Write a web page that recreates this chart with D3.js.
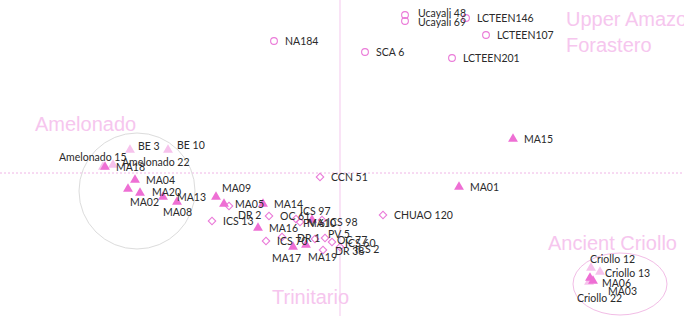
<!DOCTYPE html>
<html>
<head>
<meta charset="utf-8">
<script src="https://d3js.org/d3.v7.min.js"></script>
<style>
  body { margin: 0; background: #fff; }
  text { font-family: Lato, "Noto Sans", sans-serif; }
</style>
</head>
<body>
<div id="main"></div>
<script>
const ctx = { w: 684, h: 316 };

// PCA scores (PC1, PC2)
const forasteroNames = ["NA184", "SCA 6", "Ucayali 48", "Ucayali 69", "LCTEEN146", "LCTEEN107", "LCTEEN201"];
const forasteroPC1 = [-0.66, 0.25, 0.65, 0.65, 1.26, 1.46, 1.12];
const forasteroPC2 = [1.32, 1.21, 1.58, 1.52, 1.55, 1.38, 1.15];

const trinitarioNames = ["CCN 51", "CHUAO 120", "ICS 13", "DR 2", "OC 61", "ICS 97", "PV 6", "ICS 98",
    "DR 1", "ICS 70", "PV 5", "OC 77", "ICS 60", "ICS 2", "DR 38"];
const trinitarioPC1 = [-0.20, 0.43, -1.28, -1.11, -0.71, -0.44, -0.40, -0.18,
    -0.58, -0.74, -0.25, -0.15, -0.08, 0.00, -0.17];
const trinitarioPC2 = [-0.04, -0.42, -0.48, -0.33, -0.43, -0.46, -0.49, -0.47,
    -0.64, -0.68, -0.66, -0.65, -0.69, -0.74, -0.77];

const maNames = ["MA18", "MA04", "MA02", "MA20", "MA13", "MA08", "MA09", "MA05", "MA14", "MA16",
    "MA10", "MA17", "MA19", "MA15", "MA01", "MA06", "MA03"];
const maPC1 = [-2.35, -2.05, -2.12, -2.00, -1.77, -1.63, -1.24, -1.16, -0.77, -0.82,
    -0.28, -0.47, -0.34, 1.73, 1.19, 2.50, 2.53];
const maPC2 = [0.06, -0.07, -0.16, -0.20, -0.24, -0.29, -0.24, -0.31, -0.31, -0.55,
    -0.47, -0.74, -0.72, 0.34, -0.14, -1.05, -1.08];

const refNames = ["Amelonado 15", "Amelonado 22", "BE 3", "BE 10", "Criollo 12", "Criollo 13", "Criollo 22"];
const refPC1 = [-2.37, -2.27, -2.10, -1.72, 2.51, 2.60, 2.49];
const refPC2 = [0.06, 0.08, 0.23, 0.23, -0.95, -0.99, -1.09];

// genetic group annotations
const groupLines = [["Amelonado"], ["Upper Amazon", "Forastero"], ["Ancient Criollo"], ["Trinitario"]];
const groupPC1 = [-3.05, 2.26, 2.08, -0.68];
const groupPC2 = [0.42, 1.47, -0.77, -1.31];

// label nudges (pixels) where the label is not just right of its point
const nudge = {
    "Ucayali 48": [13, 2], "Ucayali 69": [13, 5],
    "DR 2": [9, 13], "ICS 97": [4, -4], "PV 6": [3, 5], "ICS 98": [5, 6],
    "DR 1": [15, 5], "PV 5": [13, -1], "OC 77": [12, 6], "ICS 60": [13, 5], "ICS 2": [15, 6], "DR 38": [12, 5],
    "MA09": [6, -5], "MA02": [2, 17], "MA08": [-14, 14], "MA17": [-21, 15], "MA19": [2, 16],
    "MA20": [12, 3], "MA13": [14, 4], "MA06": [12, 9], "MA03": [15, 14], "MA10": [-5, 7],
    "Amelonado 15": [-44, -6], "Amelonado 22": [9, 1], "BE 3": [8, 0], "BE 10": [9, -1],
    "Criollo 12": [-1, -5], "Criollo 13": [5, 5], "Criollo 22": [-12, 20]
};

const xScale = d3.scaleLinear().domain([-3.4, 3.44]).range([0, ctx.w]);
const yScale = d3.scaleLinear().domain([1.73, -1.43]).range([0, ctx.h]);
const kx = xScale(1) - xScale(0);

function zip(names, pc1, pc2, kind) {
    return names.map((n, i) => ({ name: n, x: pc1[i], y: pc2[i], kind: kind }));
}

function createViz() {
    let svg = d3.select("#main").append("svg")
        .attr("width", ctx.w)
        .attr("height", ctx.h);
    let bkgG = svg.append("g").attr("id", "bkgG");

    // axes through the origin
    bkgG.append("line")
        .attr("x1", 0).attr("x2", ctx.w)
        .attr("y1", yScale(0)).attr("y2", yScale(0))
        .attr("stroke", "#f0b4e6").attr("stroke-width", 1)
        .attr("stroke-dasharray", "2,2");
    bkgG.append("line")
        .attr("x1", xScale(0)).attr("x2", xScale(0))
        .attr("y1", 0).attr("y2", ctx.h)
        .attr("stroke", "#f6d0f0").attr("stroke-width", 1.2);

    // group ellipses
    bkgG.append("ellipse")
        .attr("cx", xScale(-2.03)).attr("cy", yScale(-0.18))
        .attr("rx", 0.58 * kx).attr("ry", 0.58 * kx)
        .attr("fill", "none").attr("stroke", "#dcdcdc").attr("stroke-width", 1);
    bkgG.append("ellipse")
        .attr("cx", xScale(2.80)).attr("cy", yScale(-1.11))
        .attr("rx", 0.47 * kx).attr("ry", 0.31 * kx)
        .attr("fill", "none").attr("stroke", "#f2bde6").attr("stroke-width", 1);

    // group names
    let gl = bkgG.selectAll("text.group")
        .data(groupLines)
        .enter()
        .append("text")
        .attr("class", "group")
        .attr("x", (d, i) => xScale(groupPC1[i]))
        .attr("y", (d, i) => yScale(groupPC2[i]))
        .attr("fill", "#f6c6ee")
        .style("font-family", "'Liberation Sans', Arial, sans-serif")
        .style("font-size", "20px");
    gl.selectAll("tspan")
        .data((d) => d)
        .enter()
        .append("tspan")
        .attr("x", function () { return d3.select(this.parentNode).attr("x"); })
        .attr("dy", (d, i) => (i === 0 ? 0 : 26))
        .text((d) => d);

    let pts = [].concat(
        zip(forasteroNames, forasteroPC1, forasteroPC2, "circle"),
        zip(trinitarioNames, trinitarioPC1, trinitarioPC2, "diamond"),
        zip(refNames, refPC1, refPC2, "ref"),
        zip(maNames, maPC1, maPC2, "ma")
    );

    let ptG = svg.append("g").attr("id", "ptG");
    let sym = {
        circle: d3.symbol().type(d3.symbolCircle).size(36),
        diamond: d3.symbol().type(d3.symbolSquare).size(28),
        ref: d3.symbol().type(d3.symbolTriangle).size(42),
        ma: d3.symbol().type(d3.symbolTriangle).size(42)
    };
    ptG.selectAll("path")
        .data(pts)
        .enter()
        .append("path")
        .attr("d", (d) => sym[d.kind]())
        .attr("transform", (d) => `translate(${xScale(d.x)},${yScale(d.y)})` + (d.kind === "diamond" ? " rotate(45)" : ""))
        .attr("fill", (d) => (d.kind === "ma" ? "#ee6fd4" : d.kind === "ref" ? "#f6c2ec" : "none"))
        .attr("stroke", (d) => (d.kind === "circle" || d.kind === "diamond" ? "#ea7ad8" : "none"))
        .attr("stroke-width", 1.1);

    let lbG = svg.append("g").attr("id", "lbG");
    lbG.selectAll("text")
        .data(pts)
        .enter()
        .append("text")
        .attr("x", (d) => xScale(d.x) + (nudge[d.name] ? nudge[d.name][0] : 11))
        .attr("y", (d) => yScale(d.y) + (nudge[d.name] ? nudge[d.name][1] : 4))
        .attr("fill", "#2a2a2a")
        .style("font-size", "10.5px")
        .text((d) => d.name);
}

createViz();
</script>
</body>
</html>
